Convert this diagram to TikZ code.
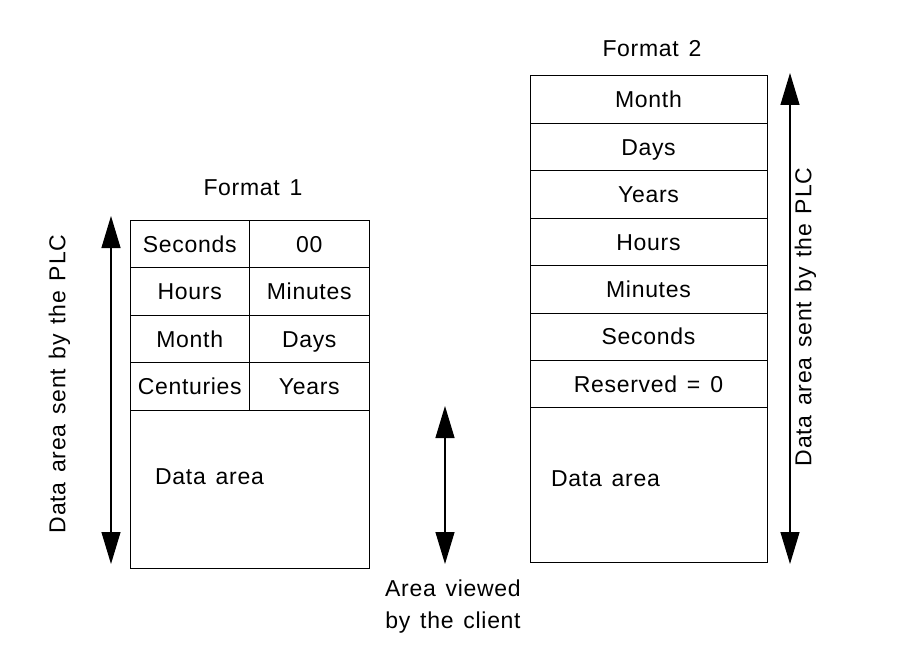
\documentclass[tikz,border=0pt]{standalone}
\usepackage{fontspec}
\setmainfont[LetterSpace=3,WordSpace=1.4]{Liberation Sans}
\usetikzlibrary{arrows.meta,positioning}

\begin{document}
\begin{tikzpicture}[x=1pt, y=-1pt,
		txt/.style   = {font=\fontsize{23}{32}\selectfont, inner sep=0pt, text height=16.5pt, text depth=0pt},
		cell/.style  = {txt, draw, line width=1pt, rectangle, anchor=north west, outer sep=0pt, minimum height=47.5pt},
		narrow/.style = {cell, minimum width=119.5pt},
		wide/.style  = {cell, minimum width=237pt, minimum height=47.4pt},
		span/.style  = {{Triangle[length=32pt,width=19pt]}-{Triangle[length=32pt,width=19pt]}, line width=1.2pt},
		>=latex]
		
		\useasboundingbox (0,0) rectangle (913,650);
		
		% Format 1, two columns
		\node[txt] (fmt1) at (253,187) {Format 1};
		\node[narrow] (sec)  at (130,220) {Seconds};
		\node[narrow] (zero) at (sec.north east) {00};
		\node[narrow] (hrs)  at (sec.south west) {Hours};
		\node[narrow] (min)  at (hrs.north east) {Minutes};
		\node[narrow] (mon)  at (hrs.south west) {Month};
		\node[narrow] (day)  at (mon.north east) {Days};
		\node[narrow] (cent) at (mon.south west) {Centuries};
		\node[narrow] (yrs)  at (cent.north east) {Years};
		\node[cell, minimum width=239pt, minimum height=158pt] (data1) at (cent.south west) {};
		\node[txt, anchor=west] (data1txt) at (155,476) {Data area};
		\draw[line width=1.8pt] (sec.north east) -- (cent.south east);
		
		% Format 2, one column
		\node[txt] (fmt2) at (652,48) {Format 2};
		\foreach \lbl [count=\i] in {Month,Days,Years,Hours,Minutes,Seconds,Reserved = 0}
		\node[wide] (f2r\i) at (530,{76+(\i-1)*47.4}) {\lbl};
		\node[cell, minimum width=237pt, minimum height=155pt] (data2) at (f2r7.south west) {};
		\node[txt, anchor=west] (data2txt) at (551,478) {Data area};
		
		% arrows and their labels
		\coordinate (l1top) at (111,216);
		\coordinate (l1bot) at (111,564);
		\coordinate (vtop)  at (445,406);
		\coordinate (vbot)  at (445,564);
		\coordinate (l2top) at (790,73);
		\coordinate (l2bot) at (790,564);
		\draw[span] (l1top) -- (l1bot);
		\draw[span] (vtop) -- (vbot);
		\draw[span] (l2top) -- (l2bot);
		
		\node[txt, rotate=90] (plc1) at (57,384) {Data area sent by the PLC};
		\node[txt, rotate=90] (plc2) at (803,317) {Data area sent by the PLC};
		\node[txt, align=center] (client) at (453,620) {Area viewed\\by the client};
		
	\end{tikzpicture}
\end{document}
